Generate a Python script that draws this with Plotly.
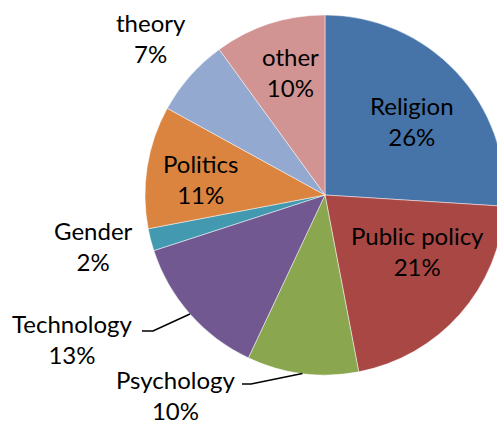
import math
import plotly.graph_objects as go

# ---- data ----
categories = ["Religion", "Public policy", "Psychology", "Technology",
              "Gender", "Politics", "theory", "other"]
shares = [26, 21, 10, 13, 2, 11, 7, 10]

# ---- styles ----
colors = ["#4674A8", "#A94744", "#8AA64F", "#725890",
          "#4299B0", "#DA843F", "#94A9CF", "#D29493"]
FONT = "Lato"
FS = 24

W, H = 510, 421
CX, CY, R = 325, 195, 180  # pie centre/radius in pixels (layout)

# label placements in pixels (layout choices, not data)
label_pos = {
    "Religion": (412, 121),
    "Public policy": (417, 251),
    "Psychology": (175, 395),
    "Technology": (72, 339),
    "Gender": (93, 246),
    "Politics": (200, 179),
    "theory": (151, 38),
    "other": (290, 72),
}
# leader lines: (start x of horizontal tick, end x of tick, y)
leaders = {
    "Technology": (142, 153, 331),
    "Psychology": (242, 251, 384),
}

fig = go.Figure(go.Pie(
    labels=categories,
    values=shares,
    sort=False,
    direction="clockwise",
    rotation=0,
    marker=dict(colors=colors, line=dict(color="rgba(255,255,255,0.6)", width=0.8)),
    textinfo="none",
    hoverinfo="skip",
    showlegend=False,
    domain=dict(x=[(CX - R) / W, (CX + R) / W],
                y=[(H - (CY + R)) / H, (H - (CY - R)) / H]),
))

def px(x, y):
    return x / W, 1 - y / H

total = sum(shares)
annotations = []
shapes = []
cum = 0
for name, v in zip(categories, shares):
    mid = (cum + v / 2) / total * 2 * math.pi
    cum += v
    lx, ly = label_pos[name]
    ax, ay = px(lx, ly)
    annotations.append(dict(
        x=ax, y=ay, xref="paper", yref="paper",
        text=f"{name}<br>{round(v / total * 100)}%",
        showarrow=False, xanchor="center", yanchor="middle",
        font=dict(family=FONT, size=FS, color="black"),
    ))
    if name in leaders:
        x0, x1, yy = leaders[name]
        ex = CX + R * math.sin(mid)
        ey = CY - R * math.cos(mid)
        p0 = px(x0, yy); p1 = px(x1, yy); p2 = px(ex, ey)
        shapes.append(dict(
            type="path", xref="paper", yref="paper",
            path=f"M {p0[0]} {p0[1]} L {p1[0]} {p1[1]} L {p2[0]} {p2[1]}",
            line=dict(color="black", width=1.5),
        ))

fig.update_layout(
    width=W, height=H,
    margin=dict(l=0, r=0, t=0, b=0),
    paper_bgcolor="white",
    plot_bgcolor="white",
    annotations=annotations,
    shapes=shapes,
    font=dict(family=FONT, size=FS),
)

fig.write_html("out.html",
               config={"displayModeBar": False},
               post_script="document.body.style.margin='0';document.body.style.overflow='hidden';document.documentElement.style.overflow='hidden';")
